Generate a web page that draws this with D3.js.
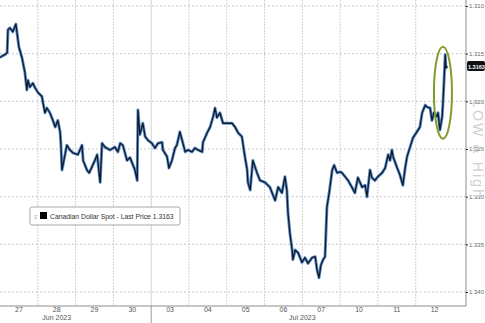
<!DOCTYPE html>
<html>
<head>
<meta charset="utf-8">
<script src="https://cdn.jsdelivr.net/npm/d3@7"></script>
<style>
  body { margin: 0; background: #fff; overflow: hidden; }
  svg text { font-family: "Liberation Sans", Arial, sans-serif; }
</style>
</head>
<body>
<div id="chart"></div>
<script>
// trading-day position (0 = start of Jun 27) and price
var times = [0.00,0.08,0.13,0.19,0.21,0.26,0.34,0.42,0.45,0.50,0.58,0.61,0.66,0.71,0.74,0.79,0.87,0.93,1.01,1.11,
  1.14,1.19,1.24,1.32,1.40,1.46,1.53,1.59,1.61,1.64,1.69,1.77,1.85,1.93,2.06,2.17,2.20,2.30,2.36,2.43,
  2.51,2.57,2.65,2.70,2.78,2.91,3.04,3.12,3.18,3.25,3.36,3.44,3.57,3.63,3.65,3.70,3.78,3.84,3.92,4.02,
  4.10,4.18,4.29,4.31,4.42,4.47,4.55,4.63,4.68,4.76,4.84,4.90,4.97,5.08,5.16,5.24,5.35,5.37,5.48,5.56,
  5.64,5.69,5.74,5.82,5.90,6.01,6.14,6.22,6.30,6.40,6.48,6.54,6.56,6.62,6.69,6.80,6.88,7.01,7.14,7.28,
  7.36,7.46,7.54,7.59,7.62,7.67,7.73,7.75,7.81,7.89,7.99,8.07,8.15,8.26,8.34,8.39,8.44,8.49,8.55,8.60,
  8.63,8.65,8.71,8.79,8.84,8.92,9.00,9.05,9.13,9.21,9.31,9.39,9.47,9.58,9.66,9.71,9.79,9.84,9.92,10.00,
  10.11,10.19,10.27,10.32,10.37,10.40,10.51,10.58,10.66,10.72,10.77,10.85,10.93,11.03,11.11,11.17,11.25,11.30,11.38,11.43,
  11.48,11.56,11.59,11.64,11.70,11.72,11.75,11.78,11.80,11.83];
var prices = [1.3154,1.3152,1.3151,1.3149,1.3125,1.3123,1.3127,1.3119,1.3128,1.3143,1.3154,1.3160,1.3170,1.3188,1.3178,1.3185,1.3181,1.3186,1.3191,1.3195,
  1.3202,1.3212,1.3207,1.3212,1.3220,1.3227,1.3220,1.3232,1.3244,1.3272,1.3262,1.3246,1.3251,1.3254,1.3256,1.3246,1.3262,1.3272,1.3275,1.3269,
  1.3262,1.3256,1.3285,1.3244,1.3248,1.3251,1.3248,1.3253,1.3244,1.3246,1.3262,1.3259,1.3272,1.3283,1.3209,1.3235,1.3223,1.3237,1.3241,1.3244,
  1.3249,1.3244,1.3243,1.3251,1.3258,1.3270,1.3262,1.3249,1.3246,1.3232,1.3244,1.3253,1.3251,1.3253,1.3249,1.3251,1.3253,1.3243,1.3233,1.3227,
  1.3216,1.3207,1.3217,1.3212,1.3223,1.3223,1.3223,1.3227,1.3233,1.3237,1.3258,1.3272,1.3285,1.3293,1.3262,1.3275,1.3283,1.3285,1.3290,1.3304,
  1.3290,1.3296,1.3279,1.3293,1.3317,1.3338,1.3356,1.3366,1.3356,1.3359,1.3369,1.3364,1.3370,1.3364,1.3363,1.3377,1.3385,1.3372,1.3366,1.3363,
  1.3332,1.3311,1.3296,1.3272,1.3267,1.3275,1.3274,1.3275,1.3279,1.3283,1.3290,1.3296,1.3280,1.3290,1.3288,1.3300,1.3272,1.3280,1.3283,1.3279,
  1.3275,1.3270,1.3256,1.3262,1.3251,1.3258,1.3270,1.3277,1.3288,1.3270,1.3258,1.3248,1.3238,1.3232,1.3227,1.3212,1.3204,1.3206,1.3207,1.3220,
  1.3212,1.3216,1.3212,1.3230,1.3216,1.3202,1.3178,1.3151,1.3165,1.3163];

var dayLabels = ["27","28","29","30","03","04","05","06","07","10","11","12"];
var monthLabels = ["Jun 2023", "Jul 2023"];
var monthCenters = [1.5, 8];
var yTicks = [1.310, 1.315, 1.320, 1.325, 1.330, 1.335, 1.340];
var lastPrice = 1.3163;

var fullWidth = 485, fullHeight = 323;
var plotRight = 466, plotBottom = 306;

var svg = d3.select("#chart").append("svg")
    .attr("width", fullWidth)
    .attr("height", fullHeight);

var x = d3.scaleLinear().domain([0, 12.33]).range([0, plotRight]);
// axis is inverted: weaker USD/CAD up
var y = d3.scaleLinear().domain([1.310, 1.340]).range([6, 292]);

// horizontal grid
svg.append("g").selectAll("line")
    .data(yTicks)
    .enter().append("line")
    .attr("x1", 0).attr("x2", plotRight)
    .attr("y1", function(d){ return y(d); })
    .attr("y2", function(d){ return y(d); })
    .attr("stroke", "#b9b9b9")
    .attr("stroke-width", 1)
    .attr("stroke-dasharray", "1.5,2.5");

// vertical day grid
svg.append("g").selectAll("line")
    .data(d3.range(1, 12))
    .enter().append("line")
    .attr("x1", function(d){ return x(d); })
    .attr("x2", function(d){ return x(d); })
    .attr("y1", 0).attr("y2", plotBottom)
    .attr("stroke", "#d2d2d2")
    .attr("stroke-width", 1)
    .attr("stroke-dasharray", function(d){ return d === 4 ? null : "2,1"; });

// month separator below axis
svg.append("line")
    .attr("x1", x(4)).attr("x2", x(4))
    .attr("y1", plotBottom).attr("y2", fullHeight)
    .attr("stroke", "#9a9a9a");

// axis frame
svg.append("line")
    .attr("x1", 0).attr("x2", plotRight)
    .attr("y1", plotBottom).attr("y2", plotBottom)
    .attr("stroke", "#8c8c8c");
svg.append("line")
    .attr("x1", plotRight).attr("x2", plotRight)
    .attr("y1", 0).attr("y2", plotBottom)
    .attr("stroke", "#8c8c8c");

// right axis labels
var yAxis = d3.axisRight(y)
    .tickValues(yTicks)
    .tickSize(2)
    .tickFormat(d3.format(".3f"));
var yg = svg.append("g")
    .attr("transform", "translate(" + plotRight + ",0)")
    .call(yAxis);
yg.select(".domain").remove();
yg.selectAll(".tick line").attr("stroke", "#222");
yg.selectAll(".tick text")
    .attr("x", 3)
    .attr("fill", "#666")
    .style("font-size", "6px");

// watermark text
svg.append("text")
    .attr("transform", "translate(473,100) rotate(90)")
    .attr("textLength", 97)
    .attr("lengthAdjust", "spacing")
    .attr("fill", "#d0d0d0")
    .style("font-size", "14px")
    .text("LOW & High");

// day labels
svg.append("g").selectAll("text")
    .data(dayLabels)
    .enter().append("text")
    .attr("x", function(d, i){ return x(i + 0.5); })
    .attr("y", 312)
    .attr("text-anchor", "middle")
    .attr("fill", "#555")
    .style("font-size", "7px")
    .text(function(d){ return d; });

svg.append("g").selectAll("text")
    .data(monthLabels)
    .enter().append("text")
    .attr("x", function(d, i){ return x(monthCenters[i]); })
    .attr("y", 320)
    .attr("text-anchor", "middle")
    .attr("fill", "#555")
    .style("font-size", "7px")
    .text(function(d){ return d; });

// price line
var data = times.map(function(t, i){ return {t: t, v: prices[i]}; });
var line = d3.line()
    .x(function(d){ return x(d.t); })
    .y(function(d){ return y(d.v); });

svg.append("path")
    .datum(data)
    .attr("d", line)
    .attr("fill", "none")
    .attr("stroke", "#5f91d0")
    .attr("stroke-width", 3)
    .attr("stroke-linejoin", "round");
svg.append("path")
    .datum(data)
    .attr("d", line)
    .attr("fill", "none")
    .attr("stroke", "#111a26")
    .attr("stroke-width", 1.3)
    .attr("stroke-linejoin", "round");

// highlight ellipse
svg.append("ellipse")
    .attr("cx", x(11.72)).attr("cy", y(1.3191))
    .attr("rx", 9).attr("ry", 46)
    .attr("fill", "none")
    .attr("stroke", "#7f9c2e")
    .attr("stroke-width", 2);

// last price tag
var tag = svg.append("g").attr("transform", "translate(" + (plotRight + 1) + "," + y(lastPrice) + ")");
tag.append("rect")
    .attr("x", 0).attr("y", -5)
    .attr("width", 18).attr("height", 10)
    .attr("rx", 2)
    .attr("fill", "#111");
tag.append("text")
    .attr("x", 1).attr("y", 2.5)
    .attr("fill", "#fff")
    .style("font-size", "5.5px")
    .style("font-weight", "bold")
    .text(d3.format(".4f")(lastPrice));

// legend
var legend = svg.append("g").attr("transform", "translate(30,207)");
legend.append("rect")
    .attr("width", 150).attr("height", 18)
    .attr("rx", 2)
    .attr("fill", "#fff")
    .attr("stroke", "#a8a8a8");
legend.append("text")
    .attr("x", 4).attr("y", 12)
    .attr("fill", "#aaa")
    .style("font-size", "6px")
    .text("≡");
legend.append("rect")
    .attr("x", 10).attr("y", 5)
    .attr("width", 7).attr("height", 7)
    .attr("fill", "#000");
legend.append("text")
    .attr("x", 20).attr("y", 11.5)
    .attr("fill", "#333")
    .style("font-size", "6.8px")
    .text("Canadian Dollar Spot - Last Price " + d3.format(".4f")(lastPrice));
</script>
</body>
</html>
